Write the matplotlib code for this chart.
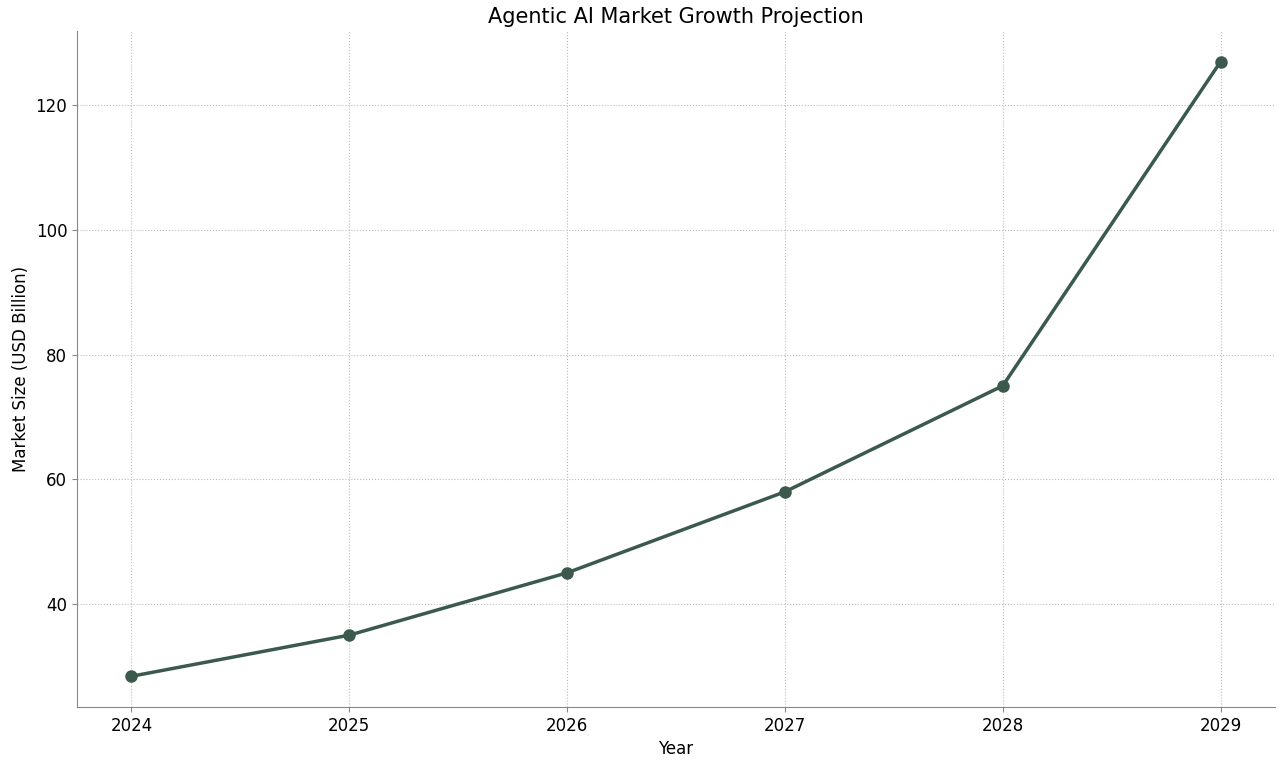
import matplotlib
matplotlib.use('Agg')
import matplotlib.pyplot as plt

years = [2024, 2025, 2026, 2027, 2028, 2029]
market_size = [28.4, 35.0, 45.0, 58.0, 75.0, 127.0]

fig = plt.figure(figsize=(12.8, 7.68), dpi=100)
ax = fig.add_axes([77 / 1280, 61 / 768, 1198 / 1280, 676 / 768])

ax.plot(years, market_size, color='#3b5a4d', lw=2.5, marker='o', ms=8, zorder=3)

ax.set_title('Agentic AI Market Growth Projection', fontsize=15)
ax.set_xlabel('Year', fontsize=12)
ax.set_ylabel('Market Size (USD Billion)', fontsize=12)
ax.set_xticks(years)
ax.set_yticks([40, 60, 80, 100, 120])
ax.tick_params(labelsize=12, color='#888888')
ax.grid(True, linestyle=':', color='#bbbbbb', linewidth=0.8)
for s in ['top', 'right']:
    ax.spines[s].set_visible(False)
for s in ['left', 'bottom']:
    ax.spines[s].set_color('#888888')

fig.savefig('out.png', dpi=100)
